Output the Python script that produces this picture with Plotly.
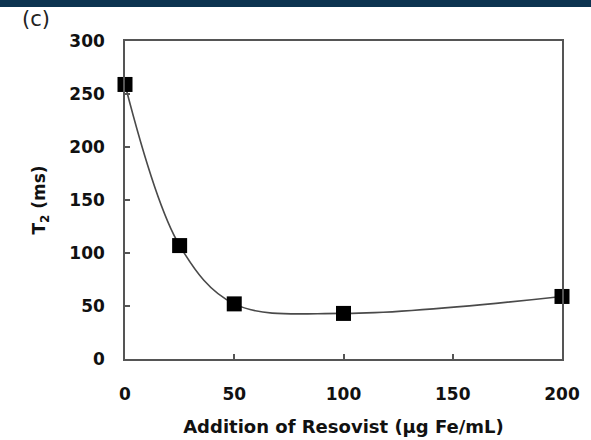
import plotly.graph_objects as go

resovist = [0, 25, 50, 100, 200]
t2_ms = [259, 107, 52, 43, 59]
x_ticks = [0, 50, 100, 150, 200]
y_ticks = [0, 50, 100, 150, 200, 250, 300]

FONT = "DejaVu Sans, Liberation Sans, Arial, sans-serif"
AX = "#555555"

fig = go.Figure()
fig.add_trace(go.Scatter(
    x=resovist, y=t2_ms, mode="lines+markers",
    line=dict(shape="spline", smoothing=1.0, color="#4a4a4a", width=1.6),
    marker=dict(symbol="square", size=15, color="#000000"),
    cliponaxis=False, showlegend=False,
))

fig.update_layout(
    width=591, height=440,
    margin=dict(l=125, r=29, t=41, b=81),
    paper_bgcolor="white", plot_bgcolor="white",
    font=dict(family=FONT, color="#111111"),
    shapes=[dict(type="rect", xref="paper", yref="paper",
                 x0=-0.3, x1=1.1, y0=1.0 + 34/318, y1=1.2,
                 fillcolor="#0c3450", line=dict(width=0), layer="above")],
    annotations=[dict(text="(c)", xref="paper", yref="paper",
                      x=-105/437, y=1 + 22/318, xanchor="left", yanchor="middle",
                      showarrow=False, font=dict(size=21, family=FONT, color="#222222"))],
)

fig.update_xaxes(
    range=[0, 200], tickvals=x_ticks, ticks="inside", ticklen=5, tickcolor=AX,
    tickwidth=1.5, showline=True, linecolor=AX, linewidth=1.6, mirror=True,
    showgrid=False, zeroline=False, ticklabelstandoff=19, automargin=False,
    tickfont=dict(size=17, family=FONT, color="#111111", weight="bold"),
    title=dict(text="<b>Addition of Resovist (µg Fe/mL)</b>", font=dict(size=18, family=FONT), standoff=17),
)
fig.update_yaxes(
    range=[0, 300], tickvals=y_ticks, ticks="inside", ticklen=5, tickcolor=AX,
    tickwidth=1.5, showline=True, linecolor=AX, linewidth=1.6, mirror=True,
    showgrid=False, zeroline=False, ticklabelstandoff=15, automargin=False,
    tickfont=dict(size=17, family=FONT, color="#111111", weight="bold"),
    title=dict(text="<b>T<sub>2</sub> (ms)</b>", font=dict(size=17, family=FONT), standoff=19),
)

fig.write_html("out.html", config={"displayModeBar": False},
               post_script="document.body.style.margin='0';document.body.style.padding='0';")
